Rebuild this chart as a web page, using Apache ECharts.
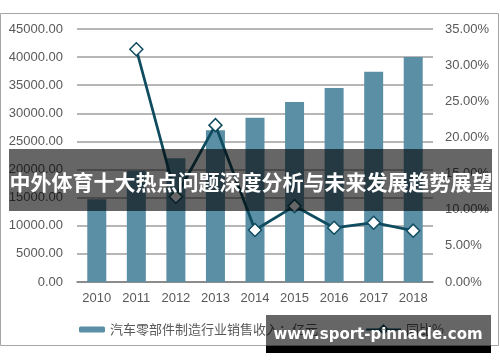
<!DOCTYPE html>
<html>
<head>
<meta charset="utf-8">
<script src="https://cdn.jsdelivr.net/npm/echarts@6/dist/echarts.min.js"></script>
<style>
html,body{margin:0;padding:0;background:#fff;}
#c{width:500px;height:362px;}
</style>
</head>
<body>
<div id="c"></div>
<script>
var years = ['2010','2011','2012','2013','2014','2015','2016','2017','2018'];
var revenue = [14700, 19800, 22000, 27000, 29200, 32000, 34500, 37400, 40000];
var growth = [null, 32.2, 11.8, 21.7, 7.2, 10.5, 7.5, 8.2, 7.1];
var barName = '汽车零部件制造行业销售收入：亿元';
var lineName = '同比%';
var titleText = '中外体育十大热点问题深度分析与未来发展趋势展望';
var watermark = 'www.sport-pinnacle.com';

var chart = echarts.init(document.getElementById('c'), null, {renderer: 'canvas'});
var font = '"Liberation Sans", Arial, sans-serif';
chart.setOption({
  animation: false,
  backgroundColor: '#fff',
  grid: {left: 77, right: 67, top: 29, bottom: 80},
  legend: [{
    data: [barName], left: 74, top: 318, itemWidth: 26, itemHeight: 6, itemGap: 4,
    textStyle: {color: '#595959', fontSize: 13, fontFamily: '"Noto Sans CJK SC", sans-serif'}
  }, {
    data: [lineName], left: 360, top: 318, itemWidth: 35, itemHeight: 10,
    textStyle: {color: '#595959', fontSize: 13, fontFamily: '"Noto Sans CJK SC", sans-serif'}
  }],
  xAxis: {
    type: 'category', data: years,
    axisLine: {lineStyle: {color: '#7f7f7f', width: 1.5}},
    axisTick: {show: false},
    axisLabel: {color: '#595959', fontSize: 13, fontFamily: font, margin: 10}
  },
  yAxis: [{
    type: 'value', min: 0, max: 45000, interval: 5000,
    axisLine: {show: false}, axisTick: {show: false},
    splitLine: {lineStyle: {color: '#9e9e9e', width: 1.5}},
    axisLabel: {color: '#595959', fontSize: 13, fontFamily: font, margin: 14,
      formatter: function(v){return v.toFixed(2);}}
  }, {
    type: 'value', min: 0, max: 35, interval: 5,
    axisLine: {show: false}, axisTick: {show: false},
    splitLine: {show: false},
    axisLabel: {color: '#595959', fontSize: 13, fontFamily: font, margin: 12,
      formatter: function(v){return v.toFixed(2) + '%';}}
  }],
  series: [{
    name: barName, type: 'bar', data: revenue, yAxisIndex: 0,
    barWidth: 19,
    itemStyle: {color: '#5b8fa6'}
  }, {
    name: lineName, type: 'line', data: growth, yAxisIndex: 1,
    symbol: 'diamond', symbolSize: 13, connectNulls: false,
    lineStyle: {color: '#0f4c5f', width: 2.8},
    itemStyle: {color: '#fff', borderColor: '#0f4c5f', borderWidth: 1.5}
  }],
  graphic: [{
    type: 'rect', z: 0, silent: true,
    shape: {x: 0.5, y: 13.5, width: 498, height: 332},
    style: {fill: null, stroke: '#a6a6a6', lineWidth: 1}
  }, {
    type: 'rect', z: 100, silent: true,
    shape: {x: 9, y: 149, width: 483, height: 62},
    style: {fill: 'rgba(0,0,0,0.6)'}
  }, {
    type: 'text', z: 101, silent: true,
    style: {x: 251, y: 182, text: titleText, fill: '#fff', align: 'center', verticalAlign: 'middle',
      fontSize: 21, fontWeight: 'bold', fontFamily: '"Noto Sans CJK SC", sans-serif'}
  }, {
    type: 'rect', z: 100, silent: true,
    shape: {x: 266, y: 315, width: 225, height: 31},
    style: {fill: 'rgba(0,0,0,0.6)'}
  }, {
    type: 'rect', z: 100, silent: true,
    shape: {x: 266, y: 346, width: 225, height: 7},
    style: {fill: '#000'}
  }, {
    type: 'text', z: 101, silent: true,
    style: {x: 378, y: 335, text: watermark, fill: '#fff', align: 'center', verticalAlign: 'middle',
      fontSize: 15, fontWeight: 'bold', fontFamily: '"DejaVu Sans", sans-serif'}
  }]
});
</script>
</body>
</html>
